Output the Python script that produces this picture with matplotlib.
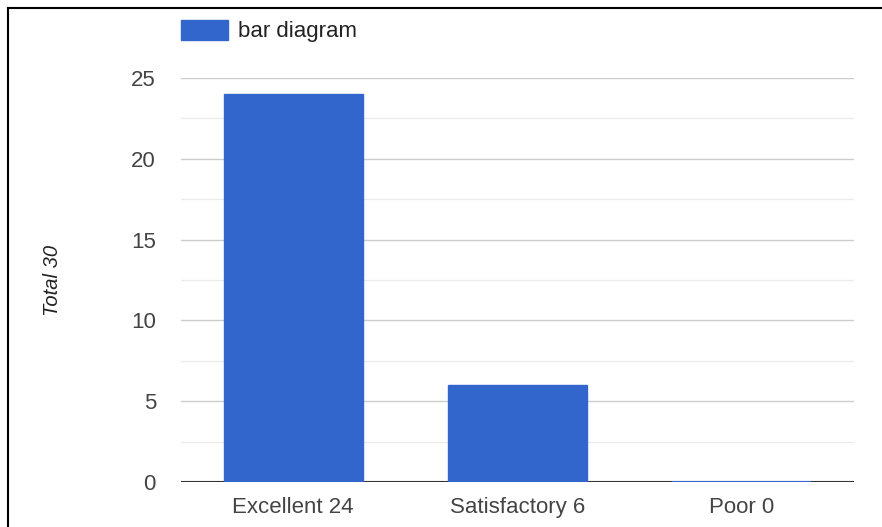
import matplotlib.pyplot as plt
import numpy as np
from matplotlib.lines import Line2D

plt.rcParams['font.family'] = ['Liberation Sans', 'DejaVu Sans']

categories = ['Excellent 24', 'Satisfactory 6', 'Poor 0']
values = [24, 6, 0]
series_name = 'bar diagram'
ylabel = 'Total 30'
yticks = [0, 5, 10, 15, 20, 25]
minor_ticks = [2.5, 7.5, 12.5, 17.5, 22.5]

bar_col = '#3366cc'
bw = 0.62

fig = plt.figure(figsize=(8.82, 5.27), dpi=100)
ax = fig.add_axes([181/882, 45/527, 673/882, 404/527])

x = np.arange(len(categories))
for yv in yticks[1:]:
    ax.axhline(yv, color='#cccccc', lw=1.0, zorder=0)
for yv in minor_ticks:
    ax.axhline(yv, color='#ebebeb', lw=1.0, zorder=0)
ax.axhline(0, color='#333333', lw=1.5, zorder=1)

bars = ax.bar(x, values, width=bw, color=bar_col, edgecolor=bar_col,
              linewidth=1.0, zorder=2, label=series_name)
# zero height bars still show as a thin blue line on the baseline
zero = np.array(values) == 0
ax.hlines(np.zeros(zero.sum()), x[zero] - bw/2, x[zero] + bw/2,
          color=bar_col, lw=1.5, zorder=3)

ax.set_xlim(-0.5, len(categories) - 0.5)
ax.set_ylim(0, 25)
ax.set_xticks(x)
ax.set_xticklabels(categories)
ax.set_yticks(yticks)
ax.tick_params(axis='both', length=0, labelsize=16, labelcolor='#444444')
ax.tick_params(axis='y', pad=18)
ax.tick_params(axis='x', pad=11)
for s in ax.spines.values():
    s.set_visible(False)

ax.set_ylabel(ylabel, fontsize=14.5, style='italic', color='#222222', labelpad=0)
ax.yaxis.set_label_coords(-(181 - 62) / 673, 0.5)

leg = ax.legend(loc='center left', bbox_to_anchor=(0, 1 + (78 - 31) / 404),
                frameon=False, fontsize=16, handlelength=2.1, handleheight=1.05,
                handletextpad=0.45, borderaxespad=0.0, borderpad=0.0,
                labelcolor='#222222')

# picture frame (top and left edges)
fig.add_artist(Line2D([8/882, 1], [1 - 8/527, 1 - 8/527], color='black', lw=1.5))
fig.add_artist(Line2D([8/882, 8/882], [0, 1 - 8/527], color='black', lw=1.5))

fig.savefig('out.png', dpi=100)
